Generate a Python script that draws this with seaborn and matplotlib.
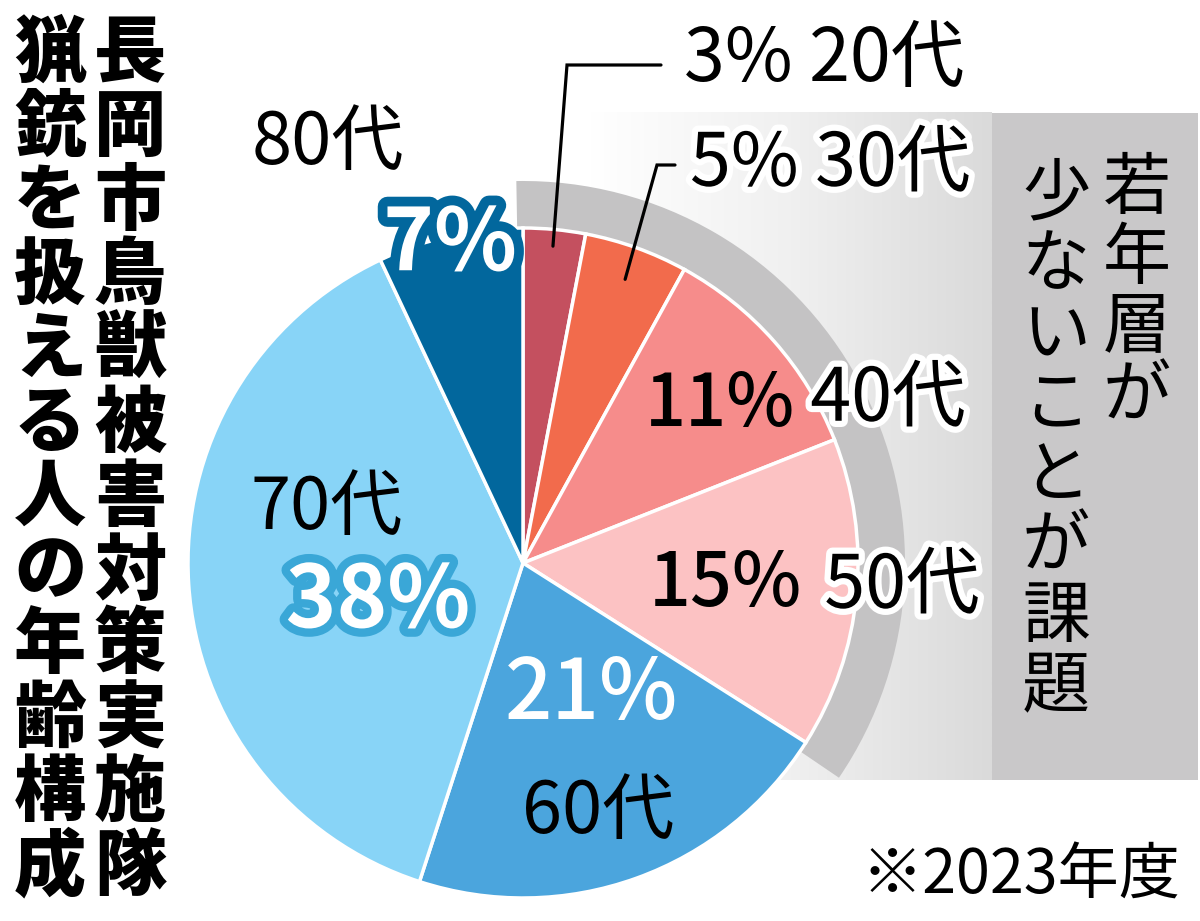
import numpy as np
import matplotlib
matplotlib.use("Agg")
import matplotlib.pyplot as plt
import matplotlib.patheffects as pe
from matplotlib.patches import Wedge, Rectangle
from matplotlib.colors import LinearSegmentedColormap
import seaborn as sns

# ---- data ----
ages = ["20代", "30代", "40代", "50代", "60代", "70代", "80代"]
shares = [3, 5, 11, 15, 21, 38, 7]
slice_colors = ["#c4505f", "#f26b4c", "#f68c8b", "#fcc2c3", "#4ba5dd", "#88d4f7", "#02679d"]
young_groups = 4  # 20代〜50代 highlighted by the gray arc
title_right = "長岡市鳥獣被害対策実施隊"
title_left = "猟銃を扱える人の年齢構成"
note_right = "若年層が"
note_left = "少ないことが課題"
footnote = "※2023年度"

sns.set_theme(style="white")
plt.rcParams["font.family"] = ["Noto Sans CJK JP", "DejaVu Sans"]
CJK = ["Noto Sans CJK JP", "DejaVu Sans"]

W, H = 1200, 921
fig = plt.figure(figsize=(W / 100, H / 100), dpi=100)
ax = fig.add_axes([0, 0, 1, 1])

CX, CY, R = 523, 563, 335

# gradient panel and gray box
grad = np.linspace(0, 1, 256).reshape(1, -1)
cmap = LinearSegmentedColormap.from_list("g", ["#ffffff", "#f0f0f0", "#dadada"])
ax.imshow(grad, extent=(590, 992, 780, 113), cmap=cmap, aspect="auto", zorder=0)
ax.add_patch(Rectangle((992, 113), 206, 667, facecolor="#c9c8c9", edgecolor="none", zorder=0))

# gray arc behind the young slices (angles are data-space, y axis inverted)
young_total = sum(shares[:young_groups])
ax.add_patch(Wedge((CX, CY), R + 47, -91, -90 + young_total * 3.6 + 1.8, width=47,
                   facecolor="#c4c3c4", edgecolor="none", zorder=1))

ax.pie(shares, colors=slice_colors, startangle=-90, counterclock=True,
       center=(CX, CY), radius=R,
       wedgeprops=dict(edgecolor="white", linewidth=2.5, zorder=2))

ax.set_xlim(0, W)
ax.set_ylim(H, 0)
ax.set_aspect("equal")
ax.axis("off")


def txt(x, y, s, size, color="black", weight="normal", stroke=None, sw=8, ha="center"):
    t = ax.text(x, y, s, fontsize=size, color=color, family=CJK, fontweight=weight,
                ha=ha, va="center", zorder=6)
    if stroke:
        t.set_path_effects([pe.withStroke(linewidth=sw, foreground=stroke)])
    return t


# leader lines from slice mid-angles
cum = np.cumsum([0] + shares)
def slice_point(i, frac):
    a = np.deg2rad((cum[i] + shares[i] / 2) * 3.6)
    return CX + R * frac * np.sin(a), CY - R * frac * np.cos(a)

p0 = slice_point(0, 0.95)
ax.plot([p0[0], 567, 661], [p0[1], 65, 65], color="black", lw=2.3, zorder=5, solid_joinstyle="miter")
p1 = slice_point(1, 0.90)
ax.plot([p1[0], 657, 675], [p1[1], 165, 165], color="black", lw=2.3, zorder=5, solid_joinstyle="miter")

# labels
txt(684, 60, f"{shares[0]}% {ages[0]}", 53, ha="left")
txt(690, 165, f"{shares[1]}% {ages[1]}", 53, ha="left", stroke="white", sw=9)
txt(720, 405, f"{shares[2]}%", 52, weight="medium")
txt(888, 400, ages[2], 53, stroke="white", sw=9)
txt(725, 585, f"{shares[3]}%", 53, weight="medium")
txt(902, 587, ages[3], 53, stroke="white", sw=9)
txt(592, 695, f"{shares[4]}%", 60, color="white", weight="medium")
txt(598, 812, ages[4], 52)
txt(327, 508, ages[5], 52)
txt(378, 602, f"{shares[5]}%", 62, color="white", weight="bold", stroke="#3aa7d7", sw=12)
txt(328, 143, ages[6], 52)
txt(450, 245, f"{shares[6]}%", 62, color="white", weight="bold", stroke="#02679d", sw=14)


def vtext(x, y0, step, s, size, weight="normal"):
    for i, ch in enumerate(s):
        ax.text(x, y0 + step * (i + 0.5), ch, fontsize=size, family=CJK, fontweight=weight,
                ha="center", va="center", color="black", zorder=6)


vtext(130, 18, 73.9, title_right, 52, weight="black")
vtext(50, 18, 73.9, title_left, 52, weight="black")
vtext(1137, 156, 69, note_right, 49)
vtext(1056, 160, 70.5, note_left, 49)

txt(1180, 876, footnote, 44, ha="right")

fig.savefig("out.png", dpi=100)
